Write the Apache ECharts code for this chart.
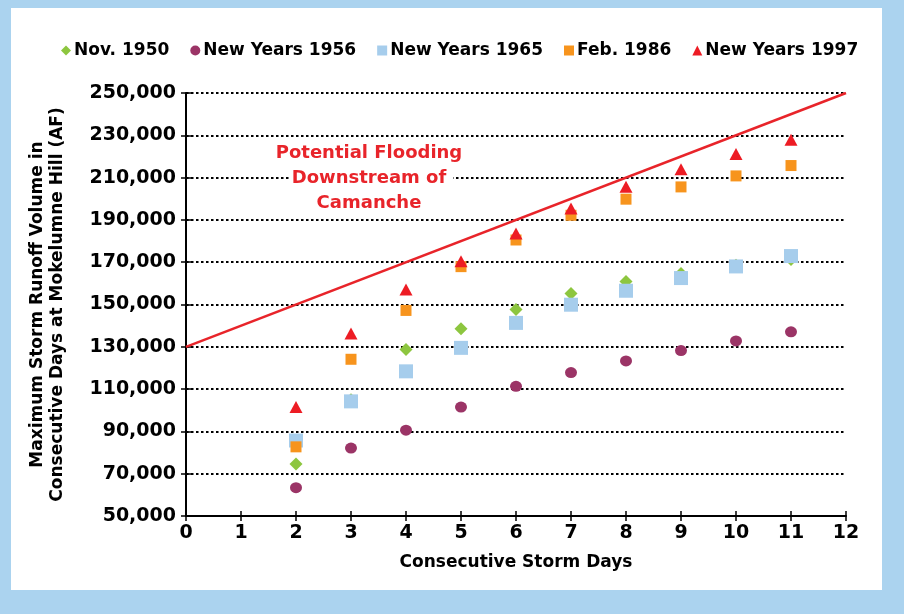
<!DOCTYPE html>
<html>
<head>
<meta charset="utf-8">
<script src="https://cdn.jsdelivr.net/npm/echarts@6/dist/echarts.min.js"></script>
<style>
  html, body { margin: 0; padding: 0; background: #ABD3EF; }
  #panel { position: absolute; left: 11px; top: 8px; width: 871px; height: 582px; background: #ffffff; }
  #chart { position: absolute; left: 0; top: 0; width: 904px; height: 614px; }
</style>
</head>
<body>
<div id="panel"></div>
<div id="chart"></div>
<script>
// ---- data ----
const days = [2, 3, 4, 5, 6, 7, 8, 9, 10, 11];
const nov1950 = [74600, 105000, 128700, 138500, 147600, 155200, 160900, 164700, 168500, 171300];
const newYears1956 = [63400, 82100, 90600, 101500, 111300, 117800, 123300, 128200, 132800, 137100];
const newYears1965 = [85700, 104200, 118400, 129500, 141300, 149900, 156500, 162500, 168000, 172900];
const feb1986 = [82700, 124100, 147200, 167900, 180500, 192200, 199800, 205600, 210800, 215700];
const newYears1997 = [101500, 136300, 157100, 170400, 183600, 195400, 205700, 214000, 221200, 227900];
const floodLineX = [0, 12];
const floodLineY = [130000, 250000];
const seriesNames = ['Nov. 1950', 'New Years 1956', 'New Years 1965', 'Feb. 1986', 'New Years 1997'];
const annotationLines = ['Potential Flooding', 'Downstream of', 'Camanche'];

const FONT = '"DejaVu Sans", "Liberation Sans", sans-serif';
const pairs = arr => days.map((d, i) => [d, arr[i]]);

const chart = echarts.init(document.getElementById('chart'), null, { renderer: 'canvas' });

const xCommon = { type: 'value', min: 0, max: 12, interval: 1, gridIndex: 0 };
const yCommon = { type: 'value', min: 50000, max: 250000, interval: 20000, gridIndex: 0 };

chart.setOption({
  backgroundColor: 'transparent',
  animation: false,
  grid: { left: 186, right: 58, top: 93, bottom: 98, containLabel: false },
  legend: {
    top: 37,
    left: 56,
    itemWidth: 10,
    itemHeight: 10,
    itemGap: 21,
    textStyle: { fontFamily: FONT, fontWeight: 'bold', fontSize: 17, color: '#000', padding: [0, 0, 0, -2] },
    data: [
      { name: seriesNames[0], icon: 'diamond' },
      { name: seriesNames[1], icon: 'circle' },
      { name: seriesNames[2], icon: 'rect' },
      { name: seriesNames[3], icon: 'rect' },
      { name: seriesNames[4], icon: 'triangle' }
    ]
  },
  xAxis: [
    Object.assign({}, xCommon, {
      name: 'Consecutive Storm Days',
      nameLocation: 'middle',
      nameGap: 38,
      nameTextStyle: { fontFamily: FONT, fontWeight: 'bold', fontSize: 17, color: '#000' },
      axisLine: { onZero: false, lineStyle: { color: '#000', width: 2 } },
      axisTick: { show: true, length: 5, lineStyle: { color: '#000', width: 1.5 } },
      axisLabel: { fontFamily: FONT, fontWeight: 'bold', fontSize: 19, color: '#000', margin: 8 },
      splitLine: { show: false }
    }),
    Object.assign({}, xCommon, {
      position: 'bottom',
      axisLine: { show: false },
      axisTick: { show: true, inside: true, length: 5, lineStyle: { color: '#000', width: 1.5 } },
      axisLabel: { show: false },
      splitLine: { show: false }
    })
  ],
  yAxis: [
    Object.assign({}, yCommon, {
      name: 'Maximum Storm Runoff Volume in\nConsecutive Days at Mokelumne Hill (AF)',
      nameLocation: 'middle',
      nameGap: 118,
      nameTextStyle: { fontFamily: FONT, fontWeight: 'bold', fontSize: 17, lineHeight: 20, color: '#000' },
      axisLine: { onZero: false, lineStyle: { color: '#000', width: 2 } },
      axisTick: { show: true, length: 5, lineStyle: { color: '#000', width: 1.5 } },
      axisLabel: {
        fontFamily: FONT, fontWeight: 'bold', fontSize: 19, color: '#000', margin: 10,
        formatter: v => v.toLocaleString('en-US')
      },
      splitLine: { show: true, lineStyle: { color: '#000', width: 2, type: [2.5, 2.5] } }
    }),
    Object.assign({}, yCommon, {
      position: 'left',
      axisLine: { show: false },
      axisTick: { show: true, inside: true, length: 5, lineStyle: { color: '#000', width: 1.5 } },
      axisLabel: { show: false },
      splitLine: { show: false }
    })
  ],
  graphic: [
    {
      type: 'rect',
      shape: { x: 290, y: 144, width: 163, height: 68 },
      style: { fill: '#ffffff' },
      z: 9
    },
    {
      type: 'text',
      x: 369,
      y: 141,
      style: {
        text: annotationLines.join('\n'),
        align: 'center',
        verticalAlign: 'top',
        fontFamily: FONT, fontWeight: 'bold', fontSize: 18, lineHeight: 25,
        fill: '#E8242A'
      },
      z: 10
    }
  ],
  series: [
    {
      name: 'flood', type: 'line', data: floodLineX.map((x, i) => [x, floodLineY[i]]),
      symbol: 'none', lineStyle: { color: '#E8242A', width: 2.5 }, silent: true, z: 1,
      legendHoverLink: false
    },
    { name: seriesNames[0], type: 'scatter', data: pairs(nov1950), symbol: 'diamond', symbolSize: [13, 13], itemStyle: { color: '#8DC63F', opacity: 1 }, z: 2 },
    { name: seriesNames[1], type: 'scatter', data: pairs(newYears1956), symbol: 'circle', symbolSize: [12, 11], itemStyle: { color: '#9B3466', opacity: 1 }, z: 3 },
    { name: seriesNames[2], type: 'scatter', data: pairs(newYears1965), symbol: 'rect', symbolSize: [14, 14], itemStyle: { color: '#A6CDEC', opacity: 1 }, z: 4 },
    { name: seriesNames[3], type: 'scatter', data: pairs(feb1986), symbol: 'rect', symbolSize: [11, 11], itemStyle: { color: '#F7941D', opacity: 1 }, z: 5 },
    { name: seriesNames[4], type: 'scatter', data: pairs(newYears1997), symbol: 'triangle', symbolSize: [13, 12], itemStyle: { color: '#ED1C24', opacity: 1 }, z: 6 }
  ]
});
</script>
</body>
</html>
